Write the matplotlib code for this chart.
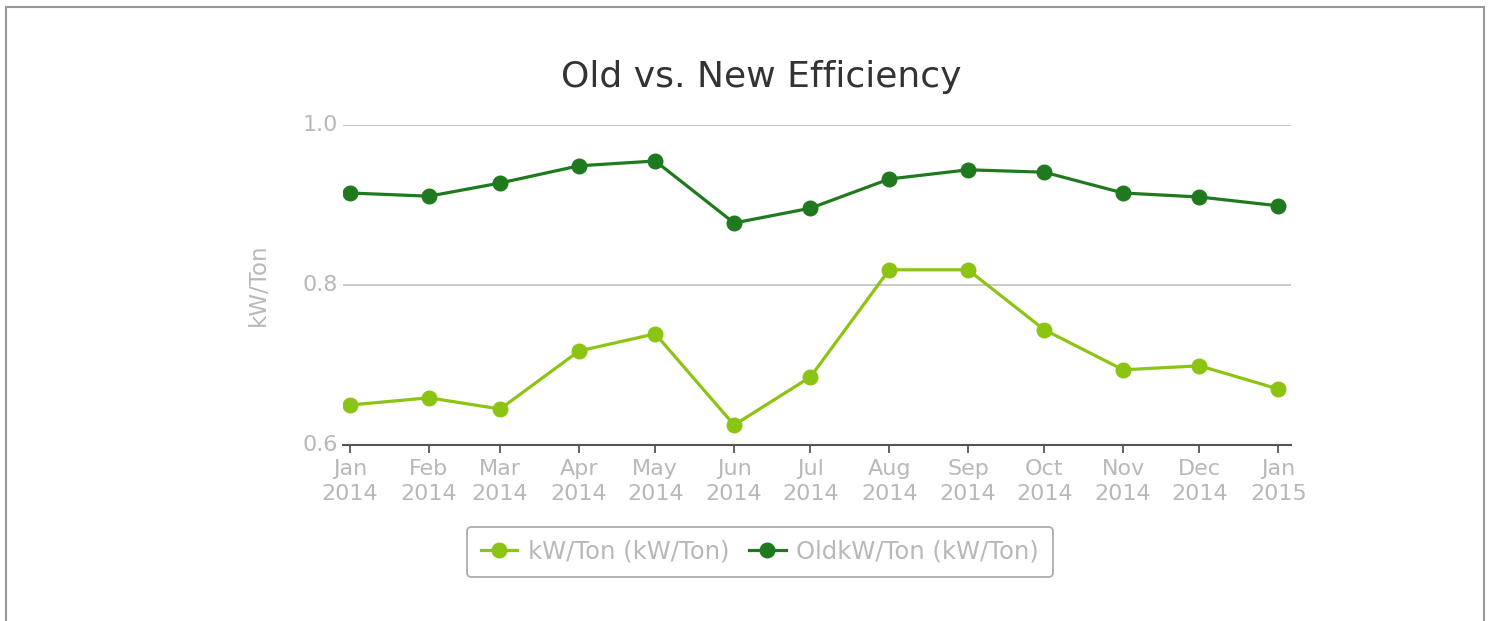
import matplotlib
matplotlib.use("Agg")
import matplotlib.pyplot as plt
from matplotlib.patches import Rectangle
import datetime as dt

months = ["2014-01", "2014-02", "2014-03", "2014-04", "2014-05", "2014-06", "2014-07",
          "2014-08", "2014-09", "2014-10", "2014-11", "2014-12", "2015-01"]
tick_labels = ["Jan\n2014", "Feb\n2014", "Mar\n2014", "Apr\n2014", "May\n2014", "Jun\n2014",
               "Jul\n2014", "Aug\n2014", "Sep\n2014", "Oct\n2014", "Nov\n2014", "Dec\n2014",
               "Jan\n2015"]
new_kw_ton = [0.650, 0.659, 0.645, 0.7175, 0.739, 0.625, 0.685, 0.819, 0.819, 0.744, 0.694, 0.699, 0.670]
old_kw_ton = [0.915, 0.911, 0.9275, 0.949, 0.955, 0.8775, 0.896, 0.9325, 0.944, 0.941, 0.915, 0.910, 0.899]

dates = [dt.datetime.strptime(m, "%Y-%m") for m in months]

LIGHT = "#8cc414"
DARK = "#1f7a1f"
GRAY_TXT = "#b8b8b8"

plt.rcParams['font.family'] = ['DejaVu Sans']

fig = plt.figure(figsize=(14.91, 6.21), dpi=100)
ax = fig.add_axes([343/1491, 1-445/621, (1291-343)/1491, (445-125)/621])

ax.plot(dates, new_kw_ton, color=LIGHT, lw=2.3, marker="o", ms=10.5, label="kW/Ton (kW/Ton)", zorder=3)
ax.plot(dates, old_kw_ton, color=DARK, lw=2.3, marker="o", ms=10.5, label="OldkW/Ton (kW/Ton)", zorder=3)

ax.set_ylim(0.6, 1.0)
ax.set_xlim(dates[0] - dt.timedelta(days=2.8), dates[-1] + dt.timedelta(days=5))
ax.set_yticks([0.6, 0.8, 1.0])
ax.set_yticklabels(["0.6", "0.8", "1.0"])
ax.set_xticks(dates)
ax.set_xticklabels(tick_labels, linespacing=1.35)

for s in ["left", "right", "top"]:
    ax.spines[s].set_visible(False)
ax.spines["bottom"].set_color("#555555")
ax.spines["bottom"].set_linewidth(1.5)
ax.grid(axis="y", color="#c0c0c0", lw=1.2)
ax.set_axisbelow(True)
ax.tick_params(axis="x", length=6, width=1.3, color="#555555", labelsize=16,
               labelcolor=GRAY_TXT, pad=4)
ax.tick_params(axis="y", length=0, labelsize=16, labelcolor=GRAY_TXT, pad=4)
for lab in ax.get_yticklabels():
    lab.set_verticalalignment("center")

ax.set_ylabel("kW/Ton", color=GRAY_TXT, fontsize=16.5, labelpad=23)

fig.text(761/1491, 1-77/621, "Old vs. New Efficiency", ha="center", va="center",
         fontsize=26, color="#333333")

leg = fig.legend(loc="center", bbox_to_anchor=(760/1491, 1-552/621), ncol=2,
                 fontsize=17.5, frameon=True, fancybox=True, edgecolor="#999999",
                 handlelength=1.5, handletextpad=0.45, columnspacing=0.8,
                 borderpad=0.55, borderaxespad=0)
leg.get_frame().set_linewidth(1.3)
for t in leg.get_texts():
    t.set_color(GRAY_TXT)

fig.patches.append(Rectangle((6/1491, -0.05), (1484-6)/1491, 1.05 - 7/621,
                             transform=fig.transFigure, fill=False,
                             edgecolor="#999999", lw=1.5))

fig.savefig("out.png", dpi=100)
